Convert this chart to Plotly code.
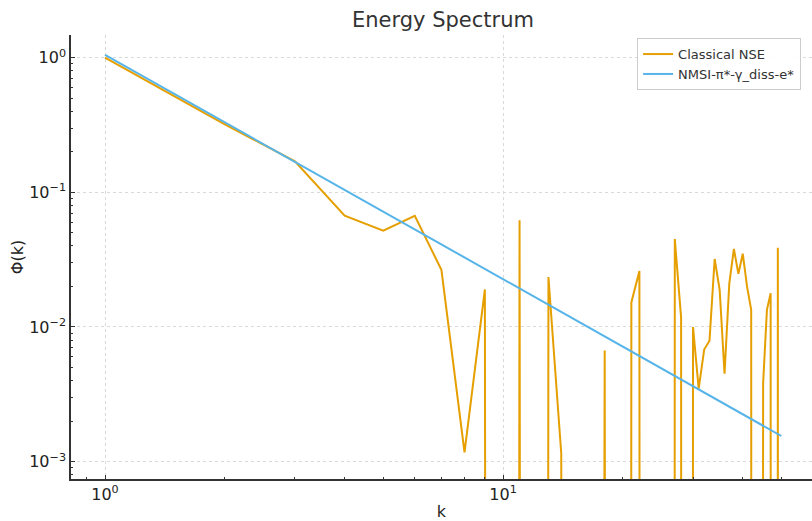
import plotly.graph_objects as go

k = list(range(1, 51))

classical_nse = [1.0, 0.32, 0.17, 0.067, 0.052, 0.067, 0.0266, 0.00117, 0.019, 0,
                 0.062, 0, 0.0235, 0.00115, 0, 0, 0, 0.0067, 0, 0,
                 0.0152, 0.026, 0, 0, 0, 0, 0.045, 0.0118, 0, 0.0100,
                 0.00348, 0.0068, 0.0079, 0.032, 0.0189, 0.0045, 0.021, 0.038, 0.0248, 0.035,
                 0.020, 0.0134, 0, 0, 0.0038, 0.0134, 0.0178, 0, 0.0387, 0]

nmsi = [1.05, 0.3307, 0.1683, 0.1042, 0.0718, 0.0530, 0.0410, 0.0328, 0.0270, 0.02262,
        0.0193, 0.0167, 0.0146, 0.0129, 0.0115, 0.01034, 0.00934, 0.00849, 0.00776, 0.00713,
        0.00657, 0.00608, 0.00564, 0.00526, 0.00491, 0.00460, 0.00432, 0.00407, 0.00384, 0.00363,
        0.00343, 0.00326, 0.00309, 0.00294, 0.00280, 0.00267, 0.00255, 0.00244, 0.00234, 0.00224,
        0.00215, 0.00207, 0.00199, 0.00191, 0.00184, 0.00178, 0.00171, 0.00166, 0.00160, 0.00155]

x_ticks = [1, 10]
x_ticktext = ["10<sup>0</sup>", "10<sup>1</sup>"]
y_ticks = [1, 0.1, 0.01, 0.001]
y_ticktext = ["10<sup>0</sup>", "10<sup>−1</sup>", "10<sup>−2</sup>", "10<sup>−3</sup>"]

# zero values are clipped far below the axis (like a log-scale clip)
clip_floor = 1e-100
classical_plot = [v if v > 0 else clip_floor for v in classical_nse]

x_minor = [0.9] + [m for m in range(2, 10)] + [m * 10 for m in range(2, 6)]
y_minor = [m * 1e-4 for m in (8, 9)] + [m * 10.0 ** e for e in (-3, -2, -1) for m in range(2, 10)]

fig = go.Figure()
fig.add_trace(go.Scatter(x=k, y=classical_plot, mode="lines", name="Classical NSE",
                         line=dict(color="#E69F00", width=2)))
fig.add_trace(go.Scatter(x=k, y=nmsi, mode="lines", name="NMSI-π*-γ_diss-e*",
                         line=dict(color="#56B4E9", width=2)))

axis_common = dict(
    showline=True, linecolor="#333333", linewidth=1.5, mirror=False,
    ticks="inside", ticklen=4, tickwidth=1, tickcolor="#333333",
    showgrid=True, gridcolor="#d9d9d9", griddash="dot", gridwidth=1,
    zeroline=False, automargin=False,
    tickfont=dict(family="DejaVu Sans", size=16, color="#222222"),
)

fig.update_layout(
    width=812, height=521,
    margin=dict(l=71, r=0, t=35, b=42),
    paper_bgcolor="white", plot_bgcolor="white",
    title=dict(text="Energy Spectrum", x=443 / 812, xanchor="center", y=1 - 20 / 521, yanchor="middle",
               font=dict(family="DejaVu Sans", size=21, color="#333333")),
    xaxis=dict(type="log", range=[-0.0854, 1.776], tickvals=x_ticks, ticktext=x_ticktext,
               title=dict(text="k", font=dict(family="DejaVu Sans", size=16, color="#222222"), standoff=6),
               minor=dict(tickvals=x_minor, ticks="inside", ticklen=2, tickcolor="#333333", showgrid=False),
               **axis_common),
    yaxis=dict(type="log", range=[-3.129, 0.1685], tickvals=y_ticks, ticktext=y_ticktext,
               title=dict(text="Φ(k)", font=dict(family="DejaVu Sans", size=16, color="#222222"), standoff=2),
               minor=dict(tickvals=y_minor, ticks="inside", ticklen=2, tickcolor="#333333", showgrid=False),
               **axis_common),
    legend=dict(x=0.764, y=0.993, xanchor="left", yanchor="top",
                bgcolor="rgba(255,255,255,0.9)", bordercolor="#cccccc", borderwidth=1,
                font=dict(family="DejaVu Sans", size=13, color="#333333")),
    showlegend=True,
)

fig.write_html("out.html", config={"displayModeBar": False},
               post_script="document.body.style.margin='0px';")
